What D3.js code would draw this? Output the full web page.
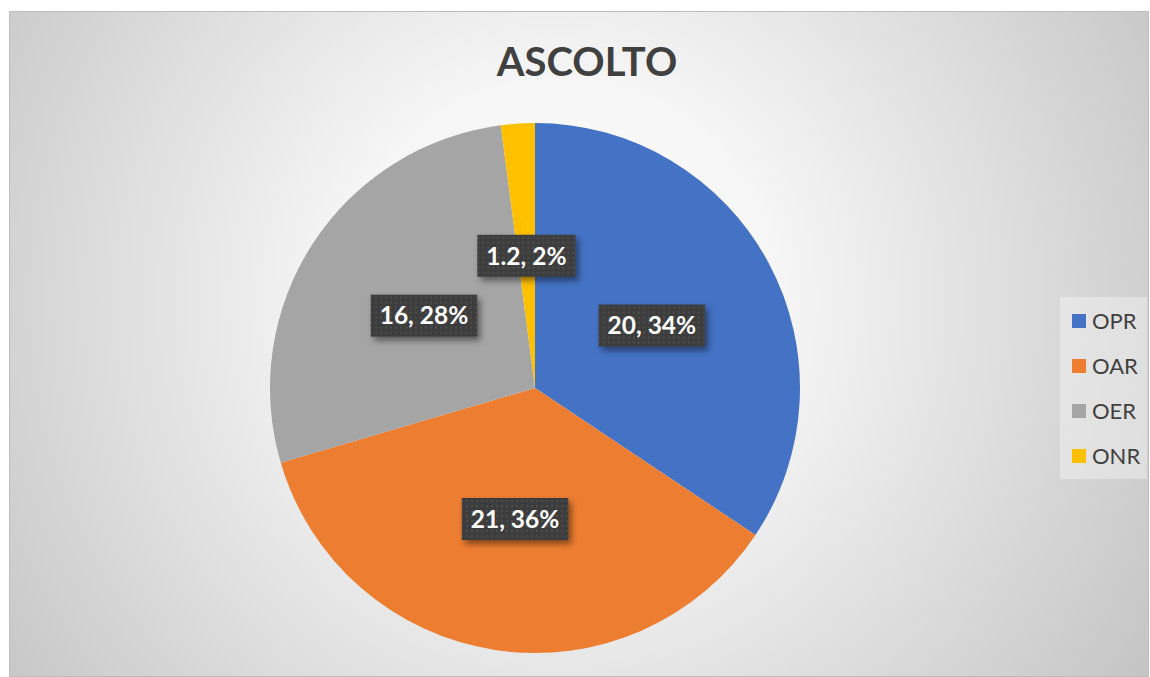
<!DOCTYPE html>
<html>
<head>
<meta charset="utf-8">
<script src="https://cdn.jsdelivr.net/npm/d3@7"></script>
<style>
  body { margin: 0; background: #ffffff; }
  svg { display: block; }
</style>
</head>
<body>
<div id="chart"></div>
<script>
// data
const categories = ['OPR', 'OAR', 'OER', 'ONR'];
const values = [20, 21, 16, 1.2];
const percentLabels = ['34%', '36%', '28%', '2%'];
const colors = ['#4472C4', '#ED7D31', '#A5A5A5', '#FFC000'];
const title = 'ASCOLTO';

const width = 1150, height = 677;
const frame = {x: 9, y: 11, w: 1139, h: 665};
const pieCenter = {x: 535, y: 388};
const radius = 265;
const font = 'Lato, "Open Sans", sans-serif';

const svg = d3.select('#chart').append('svg')
  .attr('width', width)
  .attr('height', height);

const defs = svg.append('defs');

// radial background like the Excel chart area
const bg = defs.append('radialGradient')
  .attr('id', 'bg')
  .attr('gradientUnits', 'userSpaceOnUse')
  .attr('cx', 560).attr('cy', 300).attr('r', 720);
bg.append('stop').attr('offset', '0%').attr('stop-color', '#ffffff');
bg.append('stop').attr('offset', '30%').attr('stop-color', '#f6f6f6');
bg.append('stop').attr('offset', '100%').attr('stop-color', '#c2c2c2');

// dotted dark fill for the data labels
const pat = defs.append('pattern')
  .attr('id', 'dots')
  .attr('patternUnits', 'userSpaceOnUse')
  .attr('width', 5).attr('height', 5);
pat.append('rect').attr('width', 5).attr('height', 5).attr('fill', '#3d3d3d');
pat.append('rect').attr('x', 1).attr('y', 1).attr('width', 2).attr('height', 2).attr('fill', '#4d4d4d');

const shadow = defs.append('filter')
  .attr('id', 'shadow')
  .attr('x', '-20%').attr('y', '-20%').attr('width', '150%').attr('height', '160%');
shadow.append('feDropShadow')
  .attr('dx', 3).attr('dy', 4).attr('stdDeviation', 3)
  .attr('flood-color', '#000').attr('flood-opacity', 0.45);

svg.append('rect')
  .attr('x', frame.x + 0.5).attr('y', frame.y + 0.5)
  .attr('width', frame.w).attr('height', frame.h)
  .attr('fill', 'url(#bg)')
  .attr('stroke', '#bdbdbd');

svg.append('text')
  .attr('x', 587).attr('y', 76)
  .attr('text-anchor', 'middle')
  .attr('font-family', font)
  .attr('font-weight', 700)
  .attr('font-size', 40)
  .attr('fill', '#404040')
  .text(title);

// pie
const data = categories.map((c, i) => ({name: c, value: values[i], pct: percentLabels[i], color: colors[i]}));
const pie = d3.pie().sort(null).value(d => d.value);
const arc = d3.arc().innerRadius(0).outerRadius(radius);
const arcs = pie(data);

const g = svg.append('g').attr('transform', `translate(${pieCenter.x},${pieCenter.y})`);
g.selectAll('path.slice')
  .data(arcs)
  .enter()
  .append('path')
  .attr('class', 'slice')
  .attr('d', arc)
  .attr('fill', d => d.data.color);

// data labels at the centroid (half the radius)
const labels = g.selectAll('g.label')
  .data(arcs)
  .enter()
  .append('g')
  .attr('class', 'label')
  .attr('transform', d => `translate(${arc.centroid(d)})`);

labels.each(function(d) {
  const lg = d3.select(this);
  const box = lg.append('rect').attr('fill', 'url(#dots)').attr('filter', 'url(#shadow)');
  const t = lg.append('text')
    .attr('text-anchor', 'middle')
    .attr('dy', '0.36em')
    .attr('font-family', font)
    .attr('font-weight', 700)
    .attr('font-size', 24.5)
    .attr('fill', '#ffffff')
    .text(`${d.data.value}, ${d.data.pct}`);
  const w = t.node().getComputedTextLength();
  box.attr('x', -w / 2 - 9).attr('y', -21)
    .attr('width', w + 18).attr('height', 42);
});

// legend
const legend = svg.append('g').attr('transform', 'translate(1060,297)');
legend.append('rect')
  .attr('width', 87).attr('height', 182)
  .attr('fill', '#ffffff').attr('fill-opacity', 0.35);

const items = legend.selectAll('g.item')
  .data(data)
  .enter()
  .append('g')
  .attr('class', 'item')
  .attr('transform', (d, i) => `translate(12,${24 + i * 45})`);
items.append('rect')
  .attr('y', -7).attr('width', 14).attr('height', 14)
  .attr('fill', d => d.color);
items.append('text')
  .attr('x', 20).attr('dy', '0.36em')
  .attr('font-family', font)
  .attr('font-size', 22)
  .attr('fill', '#404040')
  .text(d => d.name);
</script>
</body>
</html>
